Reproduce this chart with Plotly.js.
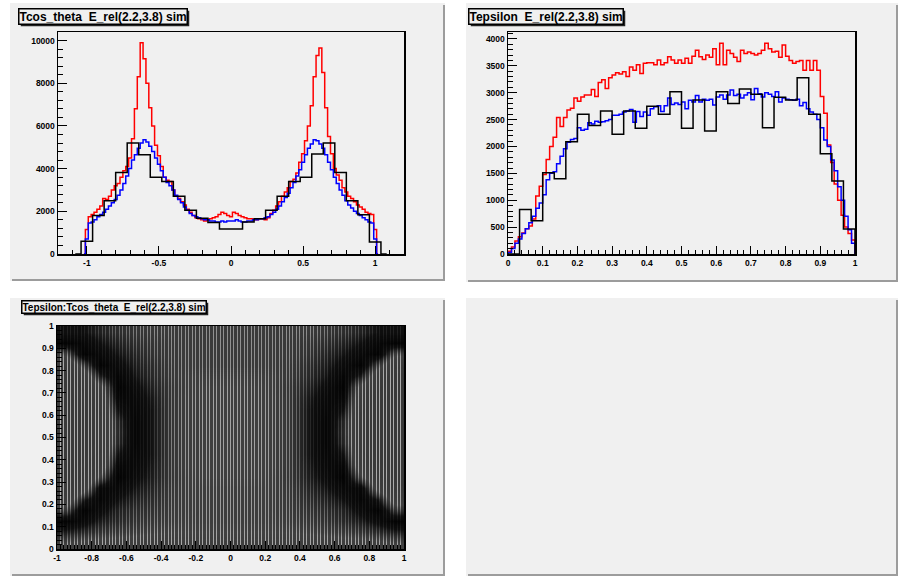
<!DOCTYPE html>
<html><head><meta charset="utf-8">
<script src="https://cdn.plot.ly/plotly-3.0.1.min.js"></script>
<style>html,body{margin:0;padding:0;background:#fff;}#plot{width:903px;height:576px;}</style>
</head><body><div id="plot"></div>
<script>
// ---------------- DATA ----------------
// Tcos_theta, fine binning (0.02), bin centres -1.02 ... 1.02
const cosRed = [
  0,1150,1750,1850,1950,2100,2250,2600,2550,2700,
  3000,3200,3300,3600,3900,4100,4500,5400,6800,8300,
  9900,9150,8000,6850,6000,5100,4600,4100,3600,3450,
  3400,3000,2700,2600,2450,2300,2100,1950,1800,1700,
  1650,1600,1550,1600,1650,1700,1750,1850,1950,1900,
  1800,1750,1950,1900,1800,1750,1700,1650,1650,1600,
  1600,1650,1650,1600,1700,1900,2050,2250,2450,2700,
  2900,3100,3400,3500,3800,4300,4700,5300,6000,6950,
  8300,9300,9650,8500,6850,5500,4700,4000,3700,3450,
  3100,2900,2700,2600,2450,2300,2200,2100,1950,1900,
  1850,1150,0];
const cosBlue = [
  0,700,1450,1500,1600,1750,1850,1950,2100,2250,
  2400,2550,2750,3000,3300,3650,4000,4400,4650,4950,
  5200,5350,5250,5050,4800,4500,4200,3900,3600,3350,
  3200,3000,2750,2550,2400,2200,2050,1900,1800,1750,
  1700,1650,1600,1600,1550,1550,1500,1500,1550,1500,
  1550,1550,1550,1600,1550,1500,1500,1550,1550,1600,
  1600,1650,1650,1700,1750,1850,1950,2100,2250,2450,
  2650,2850,3100,3350,3650,3950,4300,4650,4950,5150,
  5350,5300,5150,4950,4650,4300,3950,3600,3300,3000,
  2750,2500,2300,2150,2000,1900,1800,1700,1600,1500,
  1450,700,0];
// Tcos_theta, coarse binning (0.08), bin centres -1.08 ... 1.08
const cosBlack = [0,600,1800,2500,3820,5200,4650,3600,3400,2700,2050,1680,1480,1170,
  1170,1500,1650,2050,2700,3400,3600,4680,5200,3820,2500,1840,560,0];

// Tepsilon, fine binning (0.01), bin centres -0.005 ... 1.005
const epsRed = [0,
  50,130,240,320,390,470,520,650,1080,1260,
  1480,1760,2000,2170,2540,2370,2540,2680,2710,2900,
  2840,2920,2960,2960,3060,2930,3190,3240,3080,3280,
  3330,3370,3350,3390,3300,3480,3420,3520,3360,3550,
  3560,3560,3520,3610,3520,3560,3670,3610,3550,3610,
  3550,3640,3550,3680,3790,3670,3620,3700,3660,3820,
  3520,3920,3520,3790,3730,3660,3580,3790,3730,3760,
  3730,3700,3730,3790,3920,3820,3760,3770,3660,3890,
  3680,3600,3550,3580,3600,3420,3600,3420,3600,3420,
  2930,2620,2030,1700,1300,1000,720,500,380,260,
  0];
const epsBlue = [0,
  30,100,200,280,380,470,580,700,850,950,
  1100,1380,1500,1530,1680,1820,1960,2080,2130,2150,
  2350,2300,2320,2440,2420,2470,2450,2460,2480,2500,
  2580,2580,2600,2640,2660,2690,2450,2650,2560,2640,
  2580,2700,2740,2760,2650,2760,2900,2780,2810,2780,
  2830,2700,2860,2830,2950,2830,2880,2860,2880,2770,
  2920,2960,2880,2960,3050,2950,2970,2900,2960,3000,
  2870,3080,2980,2920,3000,2970,2930,3020,2830,2900,
  2880,2870,2860,2880,2760,2820,2700,2640,2600,2500,
  2350,2120,2000,1750,1550,1250,1000,700,450,200,
  0];
// Tepsilon, coarse binning (1/30)
const epsBlack = [0,
  0,830,620,1510,1400,2090,2600,2390,2660,2230,
  2660,2340,2750,2600,3020,2340,2866,2290,3020,2800,
  3070,2970,2350,2915,2866,3280,2600,1863,1360,464,
  0];

// Tepsilon:Tcos_theta scatter, read as point density (0 sparse ... 1 saturated)
const scatX = [-0.95,-0.85,-0.75,-0.65,-0.55,-0.45,-0.35,-0.25,-0.15,-0.05,
                0.05,0.15,0.25,0.35,0.45,0.55,0.65,0.75,0.85,0.95];
const scatY = [0.025,0.075,0.125,0.175,0.225,0.275,0.325,0.375,0.425,0.475,
               0.525,0.575,0.625,0.675,0.725,0.775,0.825,0.875,0.925,0.975];
const scatDensity = [
  [0.50,0.45,0.42,0.42,0.40,0.40,0.40,0.40,0.40,0.40, 0.40,0.40,0.40,0.40,0.40,0.40,0.42,0.42,0.45,0.50],
  [0.75,0.70,0.62,0.58,0.55,0.52,0.50,0.50,0.50,0.50, 0.50,0.50,0.50,0.50,0.52,0.55,0.58,0.62,0.68,0.75],
  [0.95,0.88,0.75,0.68,0.62,0.58,0.55,0.52,0.52,0.52, 0.52,0.52,0.52,0.55,0.58,0.62,0.68,0.75,0.85,0.95],
  [0.60,0.95,0.85,0.72,0.66,0.62,0.56,0.53,0.52,0.52, 0.52,0.52,0.53,0.56,0.62,0.66,0.72,0.85,0.95,0.65],
  [0.30,0.75,0.92,0.80,0.72,0.66,0.57,0.53,0.52,0.52, 0.52,0.52,0.53,0.57,0.66,0.72,0.80,0.92,0.78,0.35],
  [0.22,0.35,0.90,0.88,0.78,0.70,0.58,0.53,0.52,0.52, 0.52,0.52,0.53,0.58,0.70,0.78,0.88,0.90,0.40,0.22],
  [0.20,0.25,0.55,0.95,0.84,0.74,0.60,0.53,0.50,0.50, 0.50,0.50,0.53,0.60,0.74,0.84,0.95,0.55,0.25,0.20],
  [0.20,0.22,0.30,0.90,0.88,0.76,0.60,0.52,0.50,0.50, 0.50,0.50,0.52,0.60,0.76,0.88,0.90,0.30,0.22,0.20],
  [0.18,0.20,0.25,0.80,0.90,0.78,0.60,0.52,0.50,0.50, 0.50,0.50,0.52,0.60,0.78,0.90,0.80,0.25,0.20,0.18],
  [0.18,0.20,0.22,0.70,0.92,0.78,0.60,0.52,0.50,0.50, 0.50,0.50,0.52,0.60,0.78,0.92,0.70,0.22,0.20,0.18],
  [0.18,0.20,0.22,0.68,0.92,0.78,0.60,0.52,0.50,0.50, 0.50,0.50,0.52,0.60,0.78,0.92,0.68,0.22,0.20,0.18],
  [0.18,0.20,0.22,0.70,0.92,0.78,0.60,0.52,0.50,0.50, 0.50,0.50,0.52,0.60,0.78,0.92,0.70,0.22,0.20,0.18],
  [0.18,0.20,0.25,0.80,0.90,0.78,0.60,0.52,0.50,0.50, 0.50,0.50,0.52,0.60,0.78,0.90,0.80,0.25,0.20,0.18],
  [0.20,0.22,0.30,0.90,0.88,0.76,0.60,0.52,0.50,0.50, 0.50,0.50,0.52,0.60,0.76,0.88,0.90,0.30,0.22,0.20],
  [0.20,0.25,0.42,0.95,0.84,0.72,0.60,0.53,0.50,0.50, 0.50,0.50,0.53,0.60,0.72,0.84,0.95,0.42,0.25,0.20],
  [0.20,0.30,0.75,0.92,0.78,0.68,0.58,0.53,0.52,0.52, 0.52,0.52,0.53,0.58,0.68,0.78,0.92,0.75,0.30,0.20],
  [0.25,0.60,0.95,0.85,0.74,0.66,0.57,0.55,0.55,0.55, 0.55,0.55,0.55,0.57,0.66,0.74,0.85,0.95,0.60,0.25],
  [0.55,0.95,0.88,0.78,0.70,0.62,0.56,0.55,0.55,0.55, 0.55,0.55,0.55,0.56,0.62,0.70,0.78,0.88,0.95,0.55],
  [0.95,0.90,0.80,0.72,0.65,0.60,0.56,0.55,0.55,0.55, 0.55,0.55,0.55,0.56,0.60,0.65,0.72,0.80,0.90,0.95],
  [0.80,0.80,0.72,0.65,0.60,0.56,0.55,0.55,0.55,0.55, 0.55,0.55,0.55,0.55,0.56,0.60,0.65,0.72,0.80,0.80]
];

const titles = ["Tcos_theta\u00a0 E_rel(2.2,3.8) sim",
                "Tepsilon\u00a0 E_rel(2.2,3.8) sim",
                "Tepsilon:Tcos_theta\u00a0 E_rel(2.2,3.8) sim"];
const cosTickVals = [-1,-0.5,0,0.5,1];
const cosTickText = ["-1","-0.5","0","0.5","1"];
const scatTickVals = [-1,-0.8,-0.6,-0.4,-0.2,0,0.2,0.4,0.6,0.8,1];
const scatTickText = ["-1","-0.8","-0.6","-0.4","-0.2","0","0.2","0.4","0.6","0.8","1"];

// ---------------- LAYOUT GEOMETRY (pixels) ----------------
const W = 903, H = 576;
const fx = v => v / W, fy = v => 1 - v / H;
const pads = [[10,3,445,281],[466,3,898,282],[10,298,445,576],[466,298,898,576]];
const frTL = [58,32,404,254], frTR = [508,32,855,254], frBL = [57,326,404,549];
const dom = f => ({x:[fx(f[0]),fx(f[2])], y:[fy(f[3]),fy(f[1])]});

const FONT = 'Liberation Sans, Arial, sans-serif';
const tickfont = {family: FONT, size: 8.5, color: '#000', weight: 'bold'};

function axis(extra){
  return Object.assign({
    showline:true, mirror:true, linecolor:'#000', linewidth:1.5,
    ticks:'inside', tickcolor:'#000', tickwidth:1,
    showgrid:false, zeroline:false, fixedrange:true, tickfont: tickfont
  }, extra);
}
function minorT(dtick, len){ return {tickmode:'linear', tick0:0, dtick:dtick, ticks:'inside', ticklen:len, tickcolor:'#000', tickwidth:1}; }

const stepLine = (color) => ({color: color, width: 1.5, shape: 'hvh'});

const traces = [
  {type:'scatter', mode:'lines', x0:-1.02, dx:0.02, y:cosRed, line:stepLine('#ff0000'), xaxis:'x', yaxis:'y', hoverinfo:'skip'},
  {type:'scatter', mode:'lines', x0:-1.02, dx:0.02, y:cosBlue, line:stepLine('#0000ff'), xaxis:'x', yaxis:'y', hoverinfo:'skip'},
  {type:'scatter', mode:'lines', x0:-1.08, dx:0.08, y:cosBlack, line:stepLine('#000000'), xaxis:'x', yaxis:'y', hoverinfo:'skip'},
  {type:'scatter', mode:'lines', x0:-0.005, dx:0.01, y:epsRed, line:stepLine('#ff0000'), xaxis:'x2', yaxis:'y2', hoverinfo:'skip'},
  {type:'scatter', mode:'lines', x0:-0.005, dx:0.01, y:epsBlue, line:stepLine('#0000ff'), xaxis:'x2', yaxis:'y2', hoverinfo:'skip'},
  {type:'scatter', mode:'lines', x0:-1/60, dx:1/30, y:epsBlack, line:stepLine('#000000'), xaxis:'x2', yaxis:'y2', hoverinfo:'skip'},
  {type:'heatmap', x:scatX, y:scatY, z:scatDensity, zmin:0, zmax:1, zsmooth:'best', showscale:false,
   colorscale:[[0,'rgba(60,60,60,0.36)'],[0.2,'rgba(60,60,60,0.42)'],[0.5,'rgba(70,70,70,0.50)'],
               [0.8,'rgba(10,10,10,0.90)'],[1,'rgba(0,0,0,1)']],
   xaxis:'x3', yaxis:'y3', hoverinfo:'skip'}
];

const shapes = [];
pads.forEach(p => {
  shapes.push({type:'rect', xref:'paper', yref:'paper', x0:fx(p[0]), x1:fx(p[2]), y0:fy(p[3]), y1:fy(p[1]),
               fillcolor:'#f0f0f0', line:{width:0}, layer:'below'});
  shapes.push({type:'rect', xref:'paper', yref:'paper', x0:fx(p[2]-2), x1:fx(p[2]), y0:fy(p[3]), y1:fy(p[1]+2),
               fillcolor:'#9c9c9c', line:{width:0}, layer:'below'});
  shapes.push({type:'rect', xref:'paper', yref:'paper', x0:fx(p[0]+2), x1:fx(p[2]), y0:fy(p[3]), y1:fy(p[3]-2),
               fillcolor:'#9c9c9c', line:{width:0}, layer:'below'});
});
// dark backdrop of scatter frame (below grid)
shapes.push({type:'rect', xref:'paper', yref:'paper', x0:fx(frBL[0]), x1:fx(frBL[2]), y0:fy(frBL[3]), y1:fy(frBL[1]),
             fillcolor:'#383838', line:{width:0}, layer:'below'});

const titlePos = [[18,8],[468,8],[21,300]];
const titleSize = [12,12,10];
const annotations = titles.map((t,i) => ({
  xref:'paper', yref:'paper', x:fx(titlePos[i][0]), y:fy(titlePos[i][1]), xanchor:'left', yanchor:'top',
  showarrow:false, text:t, borderpad:0, borderwidth:1.5, bgcolor:'#f0f0f0', bordercolor:'#000',
  font:{family:FONT, size:titleSize[i], color:'#000', weight:'bold'}
}));

const dTL = dom(frTL), dTR = dom(frTR), dBL = dom(frBL);
const layout = {
  width:W, height:H, margin:{l:0,r:0,t:0,b:0}, showlegend:false,
  paper_bgcolor:'#ffffff', plot_bgcolor:'rgba(0,0,0,0)',
  xaxis: axis({domain:dTL.x, range:[-1.2,1.2], anchor:'y', tickmode:'array', tickvals:cosTickVals, ticktext:cosTickText,
               ticklen:8, minor:minorT(0.1,4)}),
  yaxis: axis({domain:dTL.y, range:[0,10400], anchor:'x', tickmode:'linear', tick0:0, dtick:2000, tickformat:'d',
               ticklen:9, minor:minorT(400,5)}),
  xaxis2: axis({domain:dTR.x, range:[0,1], anchor:'y2', tickmode:'linear', tick0:0, dtick:0.1,
               ticklen:8, minor:minorT(0.02,4)}),
  yaxis2: axis({domain:dTR.y, range:[0,4130], anchor:'x2', tickmode:'linear', tick0:0, dtick:500, tickformat:'d',
               ticklen:9, minor:minorT(100,5)}),
  xaxis3: axis({domain:dBL.x, range:[-1,1], anchor:'y3', tickmode:'array', tickvals:scatTickVals, ticktext:scatTickText,
               ticklen:8, showgrid:true, gridcolor:'#ffffff', gridwidth:1,
               minor:Object.assign(minorT(0.02,4), {showgrid:true, gridcolor:'#ffffff', gridwidth:1})}),
  yaxis3: axis({domain:dBL.y, range:[0,1], anchor:'x3', tickmode:'linear', tick0:0, dtick:0.1,
               ticklen:9, minor:minorT(0.02,5)}),
  shapes: shapes,
  annotations: annotations
};

Plotly.newPlot('plot', traces, layout, {staticPlot:true, displayModeBar:false}).then(gd => {
  // drop shadows behind the title boxes, sized from the drawn boxes
  const root = gd.getBoundingClientRect();
  const extra = [];
  gd.querySelectorAll('.annotation rect.bg').forEach(bg => {
    const r = bg.getBoundingClientRect();
    const x0 = r.left - root.left + 2, x1 = r.right - root.left + 2;
    const y0 = r.top - root.top + 2, y1 = r.bottom - root.top + 2;
    extra.push({type:'rect', xref:'paper', yref:'paper', x0:fx(x0), x1:fx(x1), y0:fy(y1), y1:fy(y0),
                fillcolor:'#222', line:{width:0}, layer:'above'});
  });
  return Plotly.relayout(gd, {shapes: shapes.concat(extra)});
});
</script>
</body></html>
